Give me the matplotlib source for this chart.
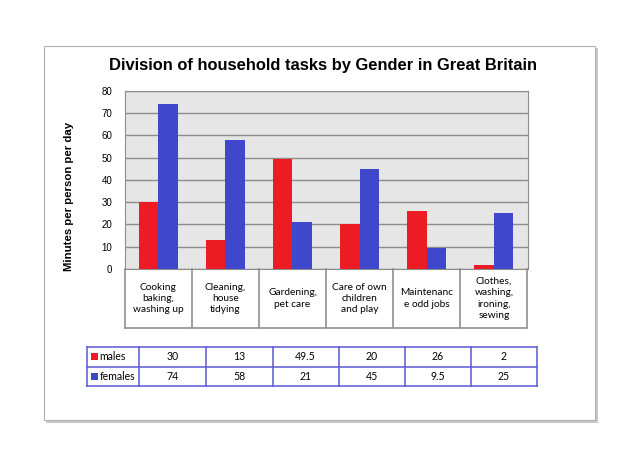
import matplotlib.pyplot as plt
import numpy as np
from matplotlib.patches import Rectangle

categories = ["Cooking\nbaking,\nwashing up", "Cleaning,\nhouse\ntidying", "Gardening,\npet care",
              "Care of own\nchildren\nand play", "Maintenanc\ne odd jobs", "Clothes,\nwashing,\nironing,\nsewing"]
males = [30, 13, 49.5, 20, 26, 2]
females = [74, 58, 21, 45, 9.5, 25]
male_labels = ["30", "13", "49.5", "20", "26", "2"]
female_labels = ["74", "58", "21", "45", "9.5", "25"]
series_names = ["males", "females"]
yticks = [0, 10, 20, 30, 40, 50, 60, 70, 80]

W, H = 640, 469
red = "#ED1C24"
blue = "#3F48CC"
line_blue = "#5A5AD2"


def px_axes(fig, x0, y0, x1, y1, **kw):
    # pixel box (top-left origin) -> figure axes
    return fig.add_axes([x0 / W, 1 - y1 / H, (x1 - x0) / W, (y1 - y0) / H], **kw)


fig = plt.figure(figsize=(6.4, 4.69), dpi=100)
fig.patch.set_facecolor("white")

# outer frame with shadow
fig.patches.append(Rectangle((46 / W, 1 - 423 / H), 552 / W, 375 / H, transform=fig.transFigure,
                             facecolor="#C8C8C8", edgecolor="none", zorder=-2))
fig.patches.append(Rectangle((44 / W, 1 - 420 / H), 551 / W, 374 / H, transform=fig.transFigure,
                             facecolor="white", edgecolor="#B0B0B0", lw=0.8, zorder=-1))

fig.text(323 / W, 1 - 65 / H, "Division of household tasks by Gender in Great Britain",
         ha="center", va="center", fontsize=11.9, fontweight="bold", family="Liberation Sans")

ax = px_axes(fig, 124.6, 90.7, 527.5, 269)
ax.set_facecolor("#E6E6E6")
x = np.arange(len(categories))
bw = 0.29
ax.bar(x - bw / 2, males, bw, color=red, zorder=3)
ax.bar(x + bw / 2, females, bw, color=blue, zorder=3)
ax.set_xlim(-0.5, len(categories) - 0.5)
ax.set_ylim(0, 80)
ax.set_yticks(yticks)
ax.set_yticklabels([str(t) for t in yticks], fontsize=7, family="Liberation Sans")
ax.tick_params(axis="y", length=0, pad=9)
ax.set_xticks([])
ax.yaxis.grid(True, color="#8C8C8C", lw=1, zorder=1)
for s in ax.spines.values():
    s.set_color("#8C8C8C")
ax.set_ylabel("Minutes per person per day", fontsize=8.2, fontweight="bold", family="Liberation Sans",
              va="center")
ax.yaxis.set_label_coords(-(124.6 - 68.6) / 402.9, (269 - 196.5) / 178.3)

# category label boxes below the axis
box_bottom = -(328 - 269) / (269 - 90.7) * 80
for i, cat in enumerate(categories):
    ax.text(i, box_bottom / 2, cat, ha="center", va="center", fontsize=7.3, family="Lato",
            linespacing=1.35, clip_on=False)
for b in np.arange(-0.5, len(categories), 1.0):
    ax.plot([b, b], [0, box_bottom], color="#909090", lw=1.2, clip_on=False)
ax.plot([-0.5, len(categories) - 0.5], [box_bottom, box_bottom], color="#909090", lw=1.2, clip_on=False)

# data table
tab = px_axes(fig, 87.3, 346.7, 537, 385.7)
tab.set_xlim(87.3, 537)
tab.set_ylim(385.7, 346.7)
tab.axis("off")
col_edges = [87.3, 139.3, 206, 272.5, 338.6, 404.6, 470.7, 537]
row_edges = [346.7, 366.7, 385.7]
for xe in col_edges:
    tab.plot([xe, xe], [row_edges[0], row_edges[-1]], color=line_blue, lw=1.1, clip_on=False)
for ye in row_edges:
    tab.plot([col_edges[0], col_edges[-1]], [ye, ye], color=line_blue, lw=1.1, clip_on=False)
for r, (name, color, labels) in enumerate(zip(series_names, [red, blue], [male_labels, female_labels])):
    yc = (row_edges[r] + row_edges[r + 1]) / 2
    tab.add_patch(Rectangle((91.3, yc - 3.3), 6.6, 6.6, facecolor=color, edgecolor="none"))
    tab.text(99.5, yc, name, ha="left", va="center", fontsize=7.6, family="Lato")
    for c, lab in enumerate(labels):
        xc = (col_edges[c + 1] + col_edges[c + 2]) / 2
        tab.text(xc, yc, lab, ha="center", va="center", fontsize=7.6, family="Lato")

fig.savefig("out.png", dpi=100)
